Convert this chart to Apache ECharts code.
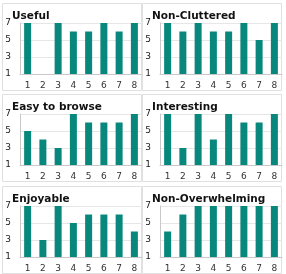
<!DOCTYPE html>
<html>
<head>
<meta charset="utf-8">
<script src="https://cdn.jsdelivr.net/npm/echarts@6/dist/echarts.min.js"></script>
<style>
  html, body { margin: 0; padding: 0; background: #fff; }
  #main { width: 286px; height: 274px; }
</style>
</head>
<body>
<div id="main"></div>
<script>
// 数据
var categories = ['1', '2', '3', '4', '5', '6', '7', '8'];
var titles = ['Useful', 'Non-Cluttered', 'Easy to browse', 'Interesting', 'Enjoyable', 'Non-Overwhelming'];
var useful = [7, 1, 7, 6, 6, 7, 6, 7];
var nonCluttered = [7, 6, 7, 6, 6, 7, 5, 7];
var easyToBrowse = [5, 4, 3, 7, 6, 6, 6, 7];
var interesting = [7, 3, 7, 4, 7, 6, 6, 7];
var enjoyable = [7, 3, 7, 5, 6, 6, 6, 4];
var nonOverwhelming = [4, 6, 7, 7, 7, 7, 7, 7];
var yTicks = [1, 3, 5, 7];

var seriesData = [useful, nonCluttered, easyToBrowse, interesting, enjoyable, nonOverwhelming];

var chart = echarts.init(document.getElementById('main'));

var colX = [0, 140];
var rowY = [0, 91, 183];

var grids = [], xAxes = [], yAxes = [], series = [], titleList = [], graphics = [];

for (var i = 0; i < 6; i++) {
    var cx = colX[i % 2];
    var ry = rowY[Math.floor(i / 2)];

    // 面板边框
    graphics.push({
        type: 'rect',
        shape: { x: cx + 2.5, y: ry + 3.5, width: 139, height: 87 },
        style: { fill: '#fff', stroke: '#e0e0e0', lineWidth: 1 },
        z: -10
    });

    titleList.push({
        text: titles[i],
        left: cx + 7,
        top: ry + 6,
        textStyle: { fontFamily: 'DejaVu Sans', fontWeight: 'bold', fontSize: 10.5, color: '#111' }
    });

    grids.push({ left: cx + 20, top: ry + 23, width: 122, height: 51 });

    xAxes.push({
        type: 'category',
        gridIndex: i,
        data: categories,
        axisLine: { lineStyle: { color: '#c8c8c8' } },
        axisTick: { show: false },
        axisLabel: { fontFamily: 'DejaVu Sans', fontSize: 9, color: '#333', margin: 7 }
    });

    yAxes.push({
        type: 'value',
        gridIndex: i,
        min: yTicks[0],
        max: yTicks[yTicks.length - 1],
        interval: 2,
        axisLine: { show: true, lineStyle: { color: '#c8c8c8' } },
        axisTick: { show: false },
        splitLine: { lineStyle: { color: '#e6e6e6' } },
        axisLabel: { fontFamily: 'DejaVu Sans', fontSize: 9, color: '#222', margin: 9 }
    });

    series.push({
        type: 'bar',
        name: titles[i],
        xAxisIndex: i,
        yAxisIndex: i,
        data: seriesData[i],
        barWidth: 7,
        itemStyle: { color: '#08877c' }
    });
}

chart.setOption({
    backgroundColor: '#fff',
    animation: false,
    title: titleList,
    grid: grids,
    xAxis: xAxes,
    yAxis: yAxes,
    series: series,
    graphic: graphics
});
</script>
</body>
</html>
